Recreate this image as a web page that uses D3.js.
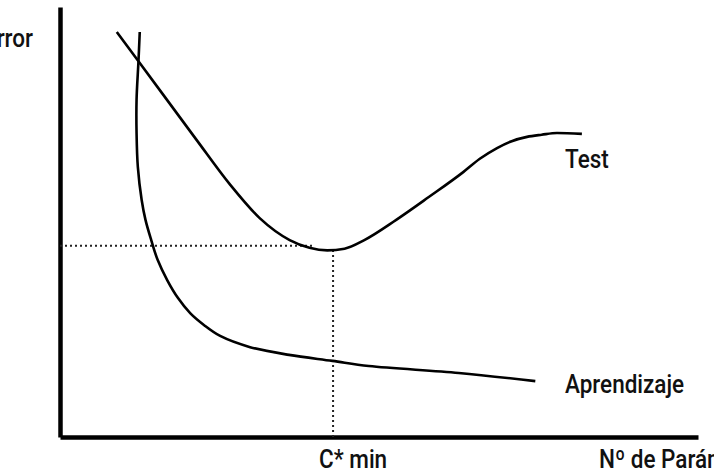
<!DOCTYPE html>
<html>
<head>
<meta charset="utf-8">
<script src="https://cdn.jsdelivr.net/npm/d3@7"></script>
<style>
  html, body { margin: 0; padding: 0; background: #fff; overflow: hidden; }
  text { font-family: "Roboto", "Liberation Sans", sans-serif; font-weight: 500; fill: #111; }
</style>
</head>
<body>
<div class="chart"></div>
<script>
const width = 714;
const height = 471;

// curve values (x: parameters, y: error)
const testX = [8.9, 12.3, 21.4, 26.6, 31.3, 36.0, 39.1, 41.9, 44.6, 47.7, 52.7, 57.8, 63.2, 65.8, 68.5, 70.8, 73.2, 75.5, 77.9, 81.8];
const testY = [94.2, 87.4, 69.1, 58.8, 50.9, 45.8, 44.0, 43.4, 43.8, 45.8, 50.5, 55.8, 61.6, 64.7, 67.2, 68.8, 69.8, 70.3, 70.7, 70.5];

const trainX = [12.5, 12.3, 12.0, 12.0, 12.2, 12.8, 13.4, 14.3, 15.3, 16.8, 18.5, 20.4, 22.6, 25.1, 29.8, 35.9, 42.7, 48.4, 62.5, 74.5];
const trainY = [94.2, 87.4, 78.4, 70.7, 62.8, 55.1, 50.5, 45.8, 41.2, 36.5, 32.3, 28.8, 26.0, 23.5, 20.9, 19.1, 17.7, 16.5, 14.9, 13.0];

// optimum marker
const cStarX = 42.8;
const cStarY = 44.5;
const cStarTestY = 43.5;
const hLineEndX = 39.5;

const labels = ['Error', 'C* min', 'N\u00BA de Par\u00E1metros', 'Test', 'Aprendizaje'];

const svg = d3.select('.chart')
  .append('svg')
  .attr('width', width)
  .attr('height', height);

const xScale = d3.scaleLinear().domain([0, 100]).range([60, 698]);
const yScale = d3.scaleLinear().domain([0, 100]).range([437, 7]);

// axes without ticks
svg.append('g')
  .attr('transform', `translate(0, ${yScale(0)})`)
  .call(d3.axisBottom(xScale).tickSizeOuter(0).tickValues([]))
  .select('.domain')
  .attr('stroke', '#000')
  .attr('stroke-width', 4.5);

svg.append('g')
  .attr('transform', `translate(${xScale(0)}, 0)`)
  .call(d3.axisLeft(yScale).tickSizeOuter(0).tickValues([]))
  .select('.domain')
  .attr('stroke', '#000')
  .attr('stroke-width', 4.5);

// dotted guides
svg.append('line')
  .attr('x1', xScale(0))
  .attr('x2', xScale(hLineEndX))
  .attr('y1', yScale(cStarY))
  .attr('y2', yScale(cStarY))
  .attr('stroke', '#222')
  .attr('stroke-width', 2)
  .attr('stroke-dasharray', '2,3');

svg.append('line')
  .attr('x1', xScale(cStarX))
  .attr('x2', xScale(cStarX))
  .attr('y1', yScale(cStarTestY))
  .attr('y2', yScale(0))
  .attr('stroke', '#222')
  .attr('stroke-width', 2)
  .attr('stroke-dasharray', '2,3');

const testLine = d3.line()
  .x((d) => xScale(d[0]))
  .y((d) => yScale(d[1]))
  .curve(d3.curveMonotoneX);

const trainLine = d3.line()
  .x((d) => xScale(d[0]))
  .y((d) => yScale(d[1]))
  .curve(d3.curveCatmullRom.alpha(0.5));

svg.append('path')
  .datum(testX.map((x, i) => [x, testY[i]]))
  .attr('d', testLine)
  .attr('fill', 'none')
  .attr('stroke', '#000')
  .attr('stroke-width', 2.6);

svg.append('path')
  .datum(trainX.map((x, i) => [x, trainY[i]]))
  .attr('d', trainLine)
  .attr('fill', 'none')
  .attr('stroke', '#000')
  .attr('stroke-width', 2.6);

// labels (condensed look: squeeze horizontally)
const fontSize = 25;
const squeeze = 0.9;

function label(text, x, y, anchor) {
  svg.append('text')
    .attr('transform', `translate(${x}, ${y}) scale(${squeeze}, 1)`)
    .attr('text-anchor', anchor || 'start')
    .style('font-size', fontSize + 'px')
    .text(text);
}

label(labels[0], 33, 47, 'end');
label(labels[1], xScale(cStarX) - 14, 468);
label(labels[2], 599, 468);
label(labels[3], 565, 168);
label(labels[4], 565, 393);
</script>
</body>
</html>
